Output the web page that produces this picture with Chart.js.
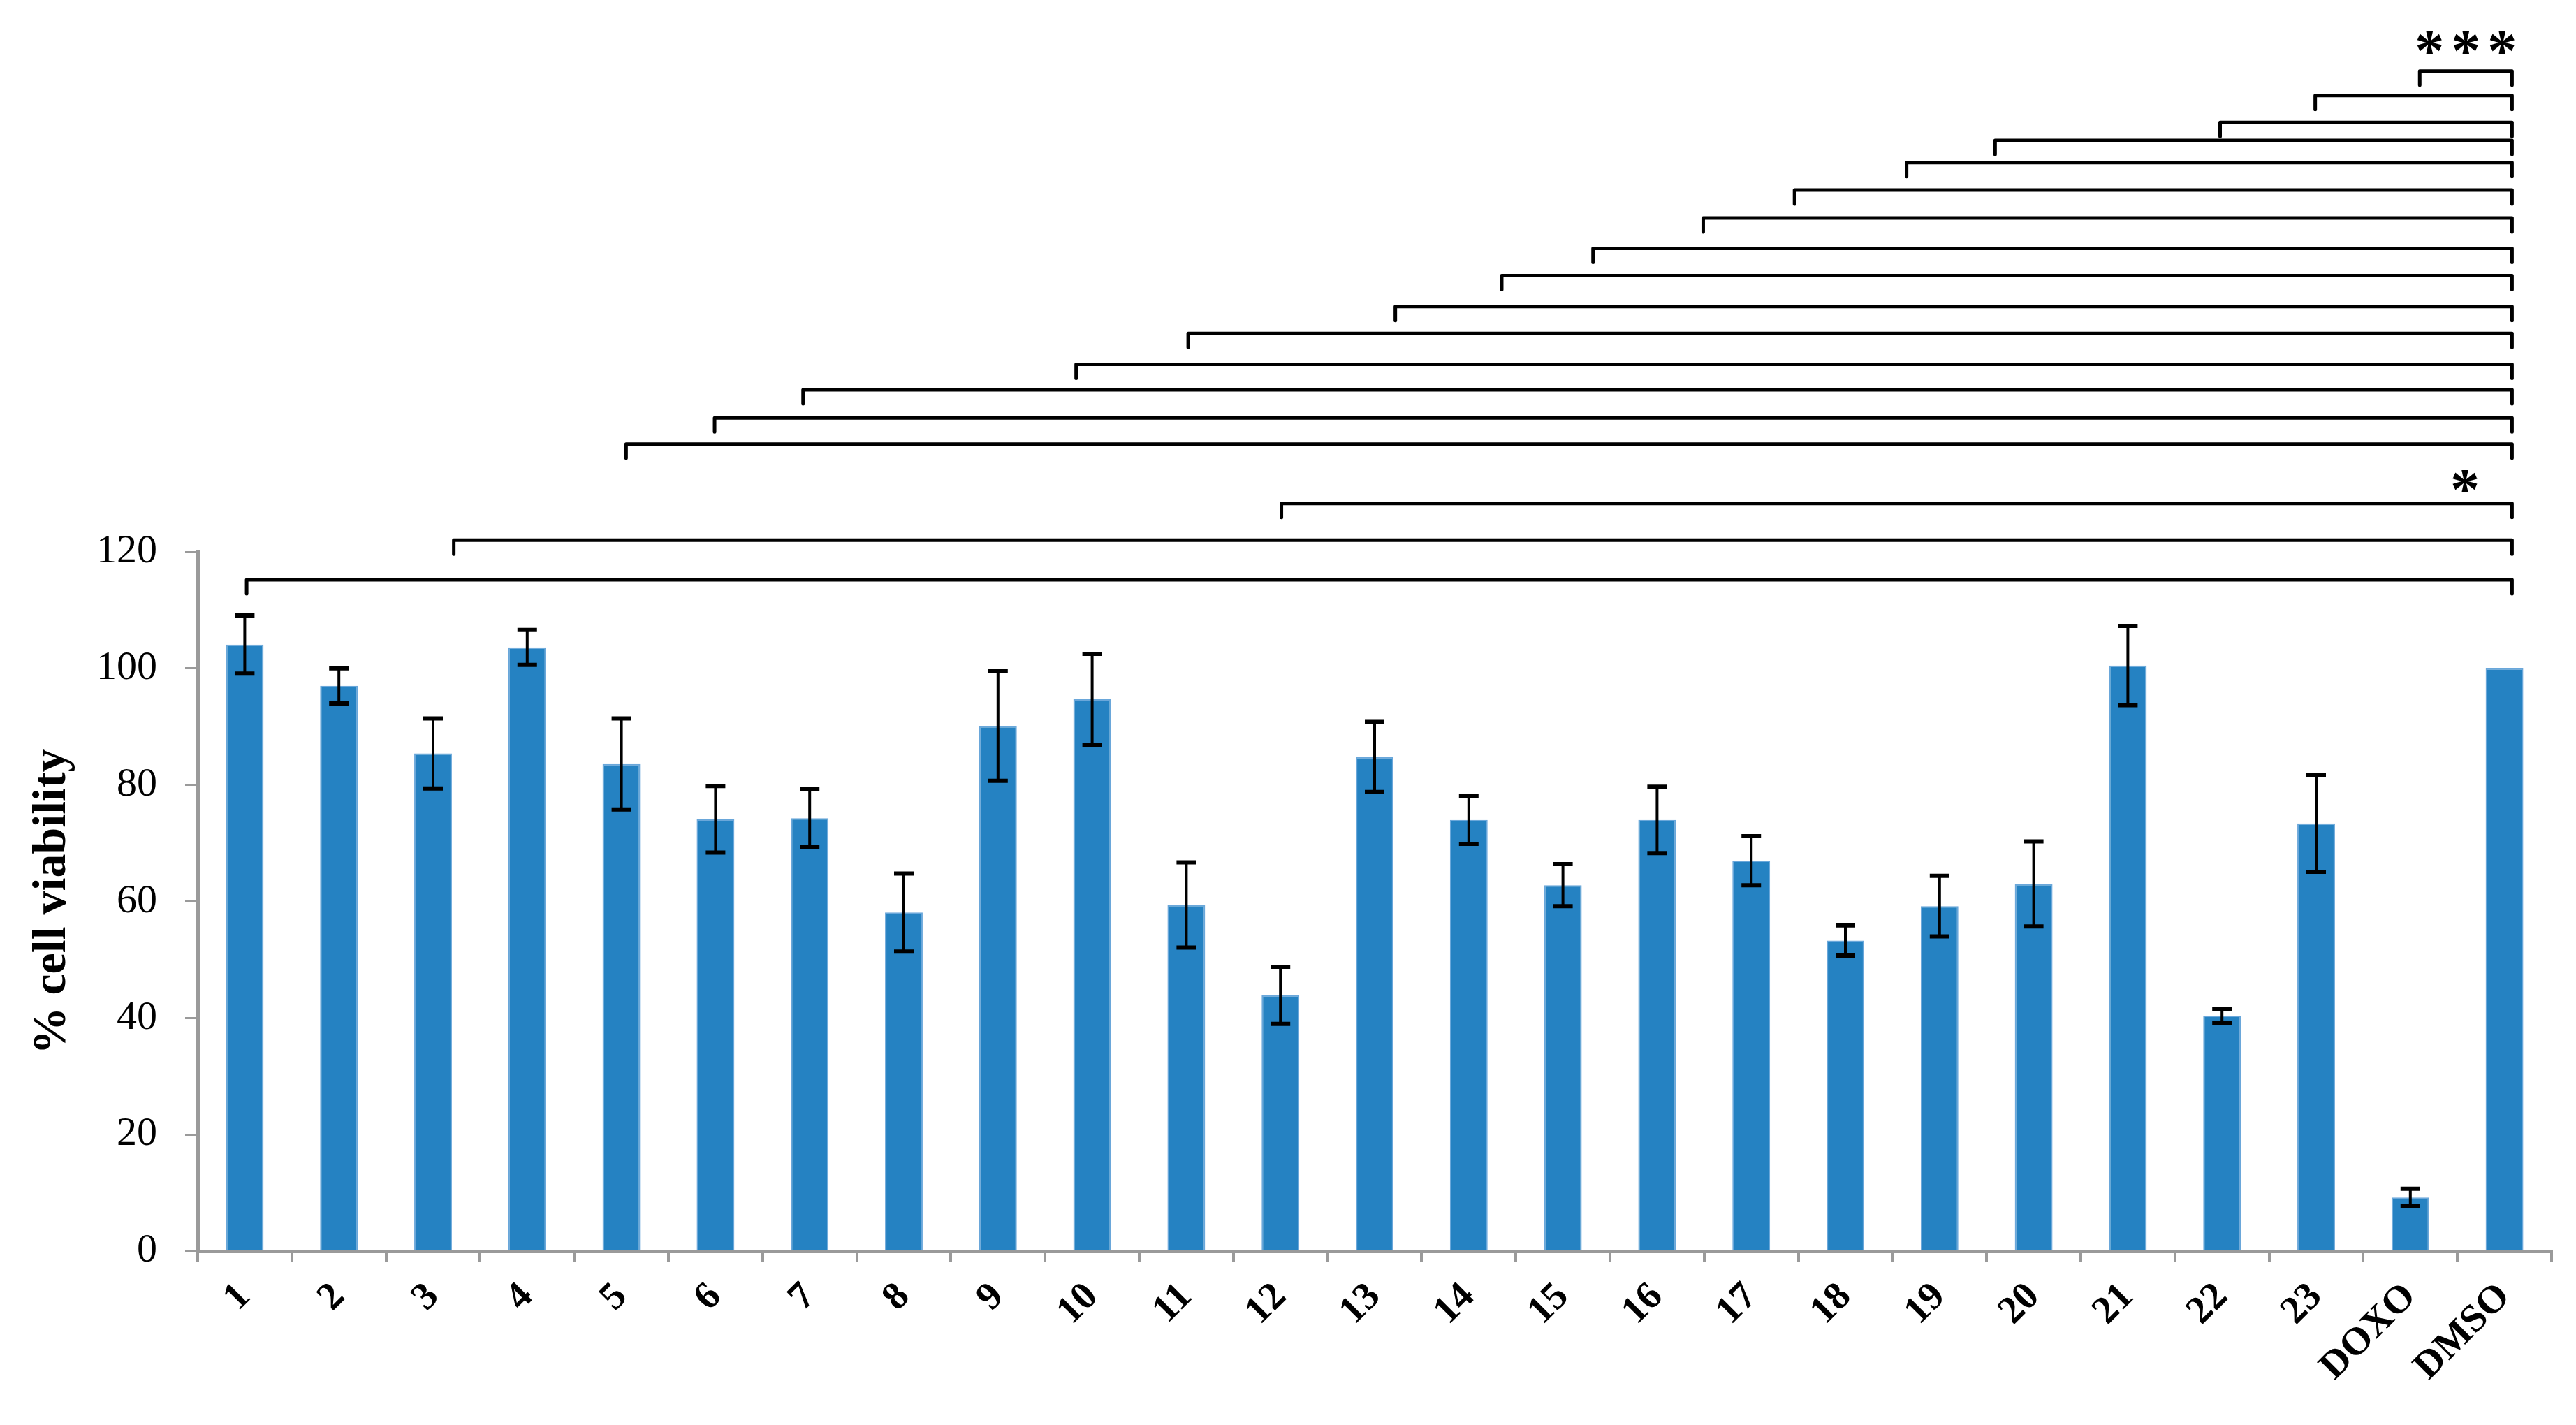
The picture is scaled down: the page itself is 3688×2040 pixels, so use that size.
<!DOCTYPE html>
<html>
<head>
<meta charset="utf-8">
<script src="https://cdn.jsdelivr.net/npm/chart.js@4/dist/chart.umd.min.js"></script>
<style>
  html, body { margin: 0; padding: 0; background: #fff; }
  canvas { display: block; }
</style>
</head>
<body>
<canvas id="viab" width="3688" height="2040"></canvas>
<script>
// compounds + controls
var labels = ['1', '2', '3', '4', '5', '6', '7', '8', '9', '10', '11', '12', '13',
  '14', '15', '16', '17', '18', '19', '20', '21', '22', '23', 'DOXO', 'DMSO'];

// % cell viability (mean) and SD
var viability = [104.1, 97.0, 85.4, 103.6, 83.6, 74.1, 74.3, 58.1, 90.1, 94.7, 59.4, 43.9, 84.8,
  74.0, 62.8, 74.0, 67.0, 53.3, 59.2, 63.0, 100.5, 40.4, 73.4, 9.2, 100];
var errors = [5.0, 3.0, 6.0, 3.0, 7.8, 5.7, 5.0, 6.7, 9.4, 7.8, 7.3, 4.9, 6.0,
  4.1, 3.6, 5.7, 4.2, 2.6, 5.2, 7.3, 6.8, 1.2, 8.3, 1.5, 0];

var yTicks = [0, 20, 40, 60, 80, 100, 120];

// significance brackets vs DMSO (left end on the category axis, height in % units)
var bracketFrom = [23.10, 21.99, 20.98, 18.59, 17.65, 16.46, 15.49, 14.32, 13.35,
  12.22, 10.02, 8.83, 5.93, 4.99, 4.05, 11.01, 2.22, 0.02];
var bracketLevel = [202.5, 198.3, 193.7, 190.6, 186.8, 182.1, 177.3, 172.1, 167.4,
  162.1, 157.5, 152.2, 147.8, 143.0, 138.5, 128.3, 122.0, 115.2];
var bracketTo = 24.08;

var starText = ['***', '*'];
var starPos = [23.59, 23.58];
var starLevel = [207.4, 132.1];

var blue = '#2582c2';
var grey = '#9a9a9a';
var serif = "'Liberation Serif', 'Times New Roman', serif";

var annotations = {
  id: 'annotations',
  afterDatasetsDraw: function (chart) {
    var ctx = chart.ctx;
    var xs = chart.scales.x;
    var ys = chart.scales.y;
    ctx.save();
    ctx.strokeStyle = '#000';
    ctx.fillStyle = '#000';

    // error bars
    for (var i = 0; i < viability.length; i++) {
      if (!errors[i]) continue;
      var cx = xs.getPixelForValue(i);
      var top = ys.getPixelForValue(viability[i] + errors[i]);
      var bot = ys.getPixelForValue(viability[i] - errors[i]);
      ctx.lineWidth = 4;
      ctx.beginPath();
      ctx.moveTo(cx, top);
      ctx.lineTo(cx, bot);
      ctx.stroke();
      ctx.lineWidth = 6;
      ctx.beginPath();
      ctx.moveTo(cx - 14, top);
      ctx.lineTo(cx + 14, top);
      ctx.moveTo(cx - 14, bot);
      ctx.lineTo(cx + 14, bot);
      ctx.stroke();
    }

    // brackets
    ctx.lineWidth = 5;
    ctx.lineJoin = 'round';
    ctx.lineCap = 'round';
    var xr = xs.getPixelForValue(bracketTo);
    for (var j = 0; j < bracketFrom.length; j++) {
      var xl = xs.getPixelForValue(bracketFrom[j]);
      var by = ys.getPixelForValue(bracketLevel[j]);
      ctx.beginPath();
      ctx.moveTo(xl, by + 20);
      ctx.lineTo(xl, by);
      ctx.lineTo(xr, by);
      ctx.lineTo(xr, by + 20);
      ctx.stroke();
    }

    // stars
    ctx.font = 'bold 84px ' + serif;
    ctx.textAlign = 'center';
    ctx.textBaseline = 'alphabetic';
    for (var k = 0; k < starText.length; k++) {
      var sx = xs.getPixelForValue(starPos[k]);
      var sy = ys.getPixelForValue(starLevel[k]);
      var m = ctx.measureText('*');
      var base = sy + (m.actualBoundingBoxAscent - m.actualBoundingBoxDescent) / 2;
      var n = starText[k].length;
      for (var s = 0; s < n; s++) {
        ctx.fillText('*', sx + (s - (n - 1) / 2) * 52, base);
      }
    }
    ctx.restore();
  }
};

var ctx = document.getElementById('viab');
var chart = new Chart(ctx, {
  type: 'bar',
  data: {
    labels: labels,
    datasets: [{
      data: viability,
      backgroundColor: blue,
      borderColor: '#6aa7da',
      borderWidth: 2,
      barPercentage: 0.4,
      categoryPercentage: 1.0
    }]
  },
  options: {
    responsive: false,
    devicePixelRatio: 1,
    animation: false,
    layout: { padding: { top: 790, right: 35, left: 0, bottom: 0 } },
    plugins: {
      legend: { display: false },
      tooltip: { enabled: false }
    },
    scales: {
      x: {
        grid: { drawOnChartArea: false, offset: true, color: grey, lineWidth: 4, tickLength: 15 },
        border: { color: grey, width: 5 },
        ticks: {
          color: '#000',
          minRotation: 45,
          maxRotation: 45,
          autoSkip: false,
          padding: 18,
          font: { family: serif, size: 56, weight: 'bold' }
        },
        afterFit: function (scale) { scale.height = 249; }
      },
      y: {
        min: 0,
        max: 120,
        afterBuildTicks: function (scale) {
          scale.ticks = yTicks.map(function (v) { return { value: v }; });
        },
        grid: { drawOnChartArea: false, color: grey, lineWidth: 3, tickLength: 18 },
        border: { color: grey, width: 5 },
        ticks: {
          color: '#000',
          padding: 40,
          font: { family: serif, size: 58 }
        },
        title: {
          display: true,
          text: '% cell viability',
          color: '#000',
          padding: { top: 35, bottom: 0 },
          font: { family: serif, size: 68, weight: 'bold' }
        },
        afterFit: function (scale) { scale.width = 283; }
      }
    }
  },
  plugins: [annotations]
});
</script>
</body>
</html>
